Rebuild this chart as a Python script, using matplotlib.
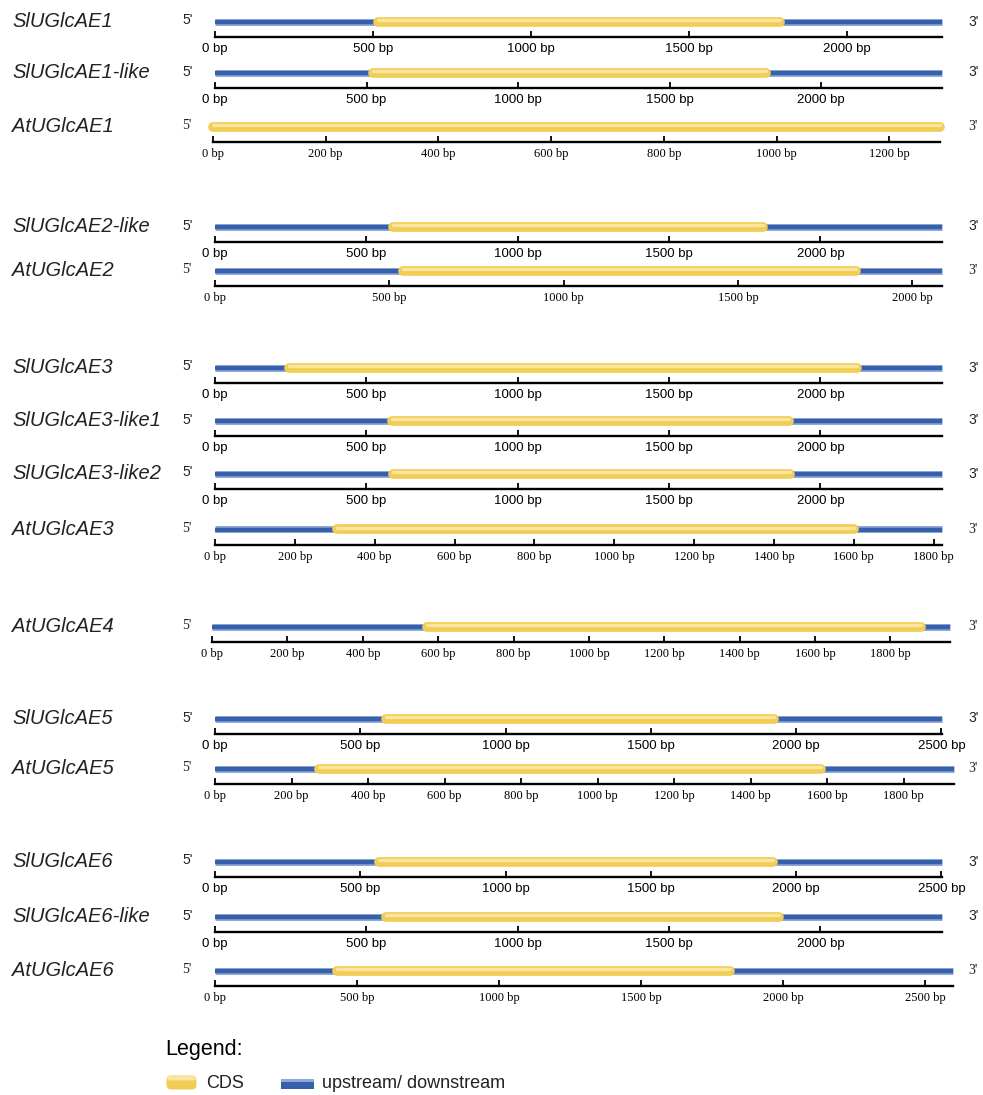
import matplotlib
matplotlib.use("Agg")
import matplotlib.pyplot as plt
from matplotlib.patches import FancyBboxPatch, Rectangle

# ---------------- data ----------------
genes = ["SlUGlcAE1", "SlUGlcAE1-like", "AtUGlcAE1",
         "SlUGlcAE2-like", "AtUGlcAE2",
         "SlUGlcAE3", "SlUGlcAE3-like1", "SlUGlcAE3-like2", "AtUGlcAE3",
         "AtUGlcAE4",
         "SlUGlcAE5", "AtUGlcAE5",
         "SlUGlcAE6", "SlUGlcAE6-like", "AtUGlcAE6"]
gene_len = [2301, 2399, 1290, 2402, 2085, 2402, 2402, 2402, 1821, 1958,
            2502, 1931, 2502, 2402, 2597]
cds_start = [515, 521, 0, 587, 538, 245, 586, 589, 305, 571, 587, 272, 563, 565, 431]
cds_end = [1788, 1818, 1290, 1809, 1839, 2122, 1895, 1899, 1600, 1880, 1925, 1583,
           1922, 1865, 1812]
tick_step = [500, 500, 200, 500, 500, 500, 500, 500, 200, 200, 500, 200, 500, 500, 500]

# ---------------- layout (pixels) ----------------
W, H = 983, 1095
axis_y = [37, 88, 142, 242, 286, 383, 436, 489, 545, 642, 734, 784, 877, 932, 986]
start_px = [215, 215, 213, 215, 215, 215, 215, 215, 215, 212, 215, 215, 215, 215, 215]
end_px = [942, 942, 940, 942, 942, 942, 942, 942, 942, 950, 942, 954, 942, 942, 953]
BAR_OFF = 15.5
AX_H = 20

YEL = "#f2cd55"
YEL_HI = "#f9e5a0"
BLU = "#7d98cf"
BLU_CORE = "#3560ab"

fig = plt.figure(figsize=(W / 100, H / 100), dpi=100)
ov = fig.add_axes([0, 0, 1, 1])
ov.set_xlim(0, W)
ov.set_ylim(H, 0)
ov.axis("off")

for i, g in enumerate(genes):
    serif = g.startswith("At")
    tfont = "Liberation Serif" if serif else "Liberation Sans"
    L = gene_len[i]
    left = start_px[i] / W
    width = (end_px[i] - start_px[i]) / W
    bottom = 1 - axis_y[i] / H
    ax = fig.add_axes([left, bottom, width, AX_H / H])
    ax.set_xlim(0, L)
    ax.set_ylim(0, AX_H)
    ax.patch.set_alpha(0)
    for s in ["top", "right", "left"]:
        ax.spines[s].set_visible(False)
    ax.spines["bottom"].set_linewidth(1.7)
    ax.set_yticks([])
    ticks = list(range(0, L + 1, tick_step[i]))
    ax.set_xticks(ticks)
    ax.set_xticklabels([f"{t} bp" for t in ticks], fontfamily=tfont,
                       fontsize=9 if serif else 9.5)
    ax.tick_params(axis="x", direction="in", length=4, width=1.3, pad=4, colors="black")

    y = BAR_OFF
    # upstream / downstream (blue)
    if cds_start[i] > 0:
        ax.plot([0, cds_start[i]], [y, y], color=BLU, lw=4.8, solid_capstyle="butt", clip_on=False)
        ax.plot([0, cds_start[i]], [y - 0.5, y - 0.5], color=BLU_CORE, lw=3.0, solid_capstyle="butt", clip_on=False)
    if cds_end[i] < L:
        ax.plot([cds_end[i], L], [y, y], color=BLU, lw=4.8, solid_capstyle="butt", clip_on=False)
        ax.plot([cds_end[i], L], [y - 0.5, y - 0.5], color=BLU_CORE, lw=3.0, solid_capstyle="butt", clip_on=False)
    # CDS (yellow)
    ax.plot([cds_start[i], cds_end[i]], [y, y], color=YEL, lw=7.0, solid_capstyle="round", clip_on=False)
    ax.plot([cds_start[i], cds_end[i]], [y + 1.6, y + 1.6], color=YEL_HI, lw=2.4, solid_capstyle="round", clip_on=False)

    bar_y = axis_y[i] - BAR_OFF
    ov.text(12, bar_y, g, fontfamily="Liberation Sans", fontstyle="italic", fontsize=14.5,
            color="#222222", ha="left", va="center")
    ov.text(182, bar_y - 1, "5'", fontfamily=tfont, fontsize=10, ha="left", va="center", color="#222222")
    ov.text(min(end_px[i] + 28, 968), bar_y, "3'", fontfamily=tfont, fontsize=10, ha="left",
            va="center", color="#222222")

# ---------------- legend ----------------
ov.text(165, 1050, "Legend:", fontfamily="Liberation Sans", fontsize=15.5, ha="left", va="center")
ov.add_patch(FancyBboxPatch((168, 1077), 27, 11, boxstyle="round,pad=1.5,rounding_size=5",
                            fc=YEL, ec="none"))
ov.add_patch(FancyBboxPatch((168, 1076), 27, 4, boxstyle="round,pad=0.5,rounding_size=2",
                            fc=YEL_HI, ec="none"))
ov.add_patch(Rectangle((281, 1079), 33, 10, fc=BLU_CORE, ec="none"))
ov.add_patch(Rectangle((281, 1079), 33, 3, fc="#8fa8d8", ec="none"))
ov.text(206, 1083, "CDS", fontfamily="Liberation Sans", fontsize=13, ha="left", va="center", color="#222222")
ov.text(322, 1083, "upstream/ downstream", fontfamily="Liberation Sans", fontsize=13, ha="left",
        va="center", color="#222222")

fig.savefig("out.png", dpi=100)
